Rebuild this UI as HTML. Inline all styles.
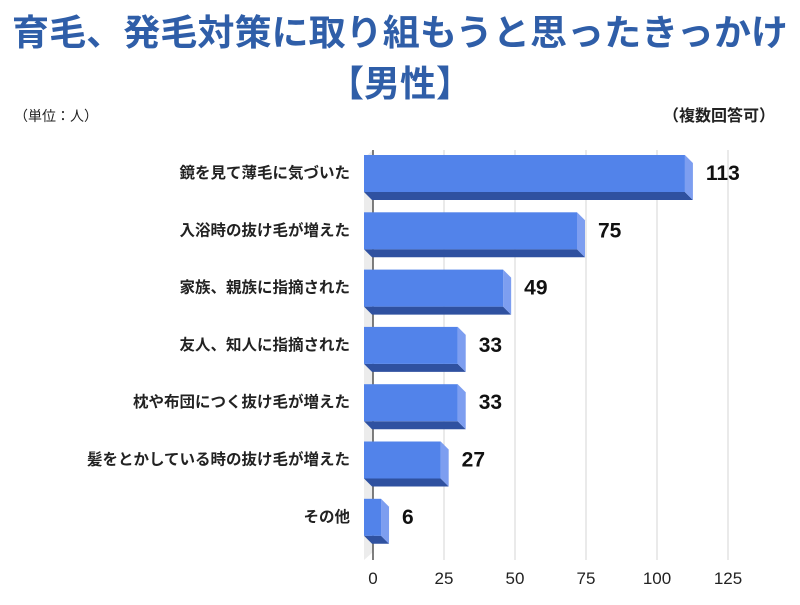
<!DOCTYPE html>
<html><head><meta charset="utf-8"><style>
body{margin:0;width:800px;height:600px;background:#fff;font-family:"Liberation Sans","Noto Sans CJK JP",sans-serif;overflow:hidden}
</style></head><body>
<svg width="800" height="600">
<text x="400" y="45" text-anchor="middle" font-size="36" font-weight="bold" fill="#2f5ea8" textLength="776" lengthAdjust="spacingAndGlyphs">育毛、発毛対策に取り組もうと思ったきっかけ</text>
<text x="400" y="96" text-anchor="middle" font-size="36" font-weight="bold" fill="#2f5ea8">【男性】</text>
<text x="14" y="121" font-size="14" fill="#222">（単位：人）</text>
<text x="775" y="121" text-anchor="end" font-size="16" font-weight="bold" fill="#222">（複数回答可）</text>
<polygon points="364,560 373,552 373,150 364,158" fill="#ececec"/>
<g id="grid"></g><g id="bars"></g><g id="labels"></g>
</svg>
<script>
const categories=["鏡を見て薄毛に気づいた","入浴時の抜け毛が増えた","家族、親族に指摘された","友人、知人に指摘された","枕や布団につく抜け毛が増えた","髪をとかしている時の抜け毛が増えた","その他"];
const values=[113,75,49,33,33,27,6];
const ticks=[0,25,50,75,100,125];
const NS="http://www.w3.org/2000/svg";
const x0=373,scale=355/125,dx=8,dy=8;
function xs(v){return x0+v*scale;}
function rowY(i){return 172+i*57.3;}
function mk(tag,attrs,parent){const e=document.createElementNS(NS,tag);for(const k in attrs)e.setAttribute(k,attrs[k]);parent.appendChild(e);return e;}
const grid=document.getElementById('grid'),bars=document.getElementById('bars'),labels=document.getElementById('labels');
ticks.forEach(t=>{
  const l=mk('line',{x1:xs(t),x2:xs(t),y1:150,y2:560,stroke:t===0?'#555':'#d4d4d4','stroke-width':t===0?1.5:1},grid);
  
  
  const tx=mk('text',{x:xs(t),y:584,'text-anchor':'middle','font-size':17,fill:'#222'},grid);
  tx.textContent=t;
  
  
});
values.forEach((v,i)=>{
  const cy=rowY(i),top=cy-17,bot=cy+20,left=x0-9,right=left+v*scale;
  const g=mk('g',{},bars);
  
  
  mk('polygon',{points:`${left},${bot} ${right},${bot} ${right+dx},${bot+dy} ${left+dx},${bot+dy}`,fill:'#2f51a0'},g);
  mk('polygon',{points:`${right},${top} ${right+dx},${top+dy} ${right+dx},${bot+dy} ${right},${bot}`,fill:'#7d9ef0'},g);
  mk('rect',{x:left,y:top,width:right-left,height:bot-top,fill:'#5283ea'},g);
  const vl=mk('text',{x:right+dx+13,y:cy+8,'font-size':21,'font-weight':'bold',fill:'#111'},labels);
  vl.textContent=v;
  
  
  const cl=mk('text',{x:350,y:cy+6,'text-anchor':'end','font-size':15.5,'font-weight':'bold',fill:'#222'},labels);
  cl.textContent=categories[i];
  
  
});
</script>
</body></html>
